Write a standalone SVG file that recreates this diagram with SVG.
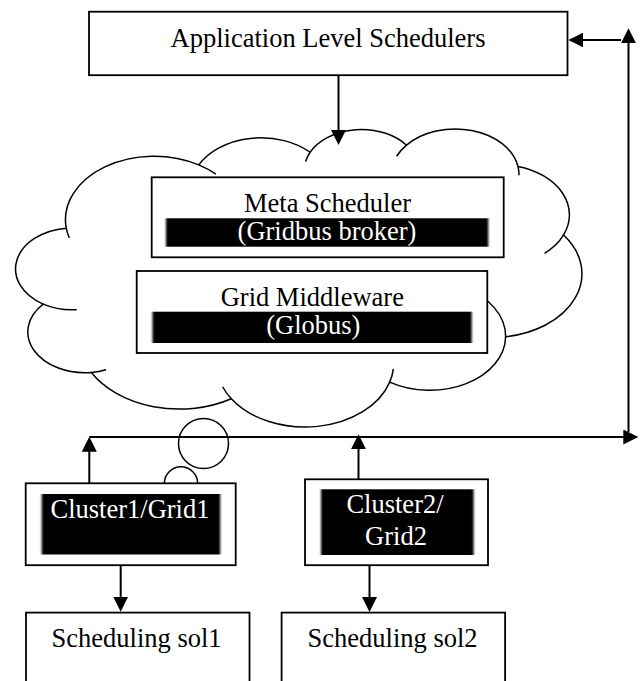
<svg xmlns="http://www.w3.org/2000/svg" width="640" height="681" viewBox="0 0 640 681">
<defs>
<style>
.box{fill:#fff;stroke:#000;stroke-width:1.8}
.bar{fill:#000;filter:url(#hb)}
.t{font-family:"Liberation Serif","Times New Roman","DejaVu Serif",serif;font-size:26.5px;text-anchor:middle;fill:#000}
.w{fill:#fff}
.cl{fill:#fff;stroke:#000;stroke-width:1.5;vector-effect:non-scaling-stroke}
.hk{fill:none;stroke:#000;stroke-width:1.5;vector-effect:non-scaling-stroke}
.bub{fill:#fff;stroke:#000;stroke-width:1.5}
.c{fill:none;stroke:#000;stroke-width:2;marker-end:url(#ah)}
</style>
<filter id="hb" x="-5%" y="0" width="110%" height="100%"><feGaussianBlur stdDeviation="1.3 0"/></filter>
<marker id="ah" markerUnits="userSpaceOnUse" markerWidth="16" markerHeight="16" refX="5" refY="7.5" orient="auto"><path d="M0,0 L15,7.5 L0,15 Z" fill="#000"/></marker>
</defs>
<rect width="640" height="681" fill="#fff"/>

<g id="cloud">
<g transform="translate(15.1,129) scale(0.013122,0.006901)">
<path class="cl" d="M3900 14370 A6753 9190 0 0 1 14000 5192 A5333 7267 0 0 1 22480 3370 A4365 5945 0 0 1 29830 2345 A4857 6595 0 0 1 38324 5426 A5333 7273 0 0 1 41798 15354 A6775 9220 0 0 1 37382 30093 A5785 7867 0 0 1 28547 36682 A6752 9215 0 0 1 16478 39090 A7720 10543 0 0 1 5811 35288 A4360 5918 0 0 1 2140 25373 A4345 5945 0 0 1 3900 14370 Z"/>
<path class="hk" d="M4127 15789 A6753 9190 0 0 1 3900 14370 M14000 5192 A6753 9190 0 0 1 15300 6540 M22141 4720 A4365 5945 0 0 1 22480 3370 M29078 3952 A4857 6595 0 0 1 29830 2345 M38324 5426 A4857 6595 0 0 1 38400 6690 M41798 15354 A5333 7273 0 0 1 40350 18030 M34129 22954 A5785 7867 0 0 1 37382 30093 M28827 34751 A6752 9215 0 0 1 28547 36682 M16478 39090 A6752 9215 0 0 1 15810 37350 M6928 34899 A4360 5918 0 0 1 5811 35288 M4693 26177 A4345 5945 0 0 1 2140 25373"/>
</g>
<circle class="bub" cx="203.5" cy="443.5" r="25"/>
<circle class="bub" cx="181" cy="483.5" r="16.7"/>
</g>

<g id="app">
<rect class="box" x="89" y="11.7" width="478.5" height="63.5"/>
<text class="t" x="328" y="47">Application Level Schedulers</text>
</g>

<g id="meta">
<rect class="box" x="151.7" y="177.3" width="352" height="80"/>
<text class="t" x="327.5" y="212.3">Meta Scheduler</text>
<rect class="bar" x="166" y="218.3" width="322.3" height="28.4"/>
<text class="t w" x="327" y="240">(Gridbus broker)</text>
</g>

<g id="grid">
<rect class="box" x="136.7" y="271" width="350.6" height="82"/>
<text class="t" x="312.3" y="306">Grid Middleware</text>
<rect class="bar" x="152.5" y="311.7" width="319.2" height="31.3"/>
<text class="t w" x="313.3" y="334.3">(Globus)</text>
</g>

<g id="cluster1">
<rect class="box" x="25.7" y="483.3" width="210" height="81.9"/>
<rect class="bar" x="41.7" y="494" width="178.5" height="60.5"/>
<text class="t w" x="130" y="518.3">Cluster1/Grid1</text>
</g>

<g id="cluster2">
<rect class="box" x="305" y="479.3" width="183" height="85.9"/>
<rect class="bar" x="321" y="489.3" width="152.6" height="65.7"/>
<text class="t w" x="395" y="513">Cluster2/</text>
<text class="t w" x="396" y="545">Grid2</text>
</g>

<g id="sol1">
<rect class="box" x="26" y="612.6" width="223.5" height="90"/>
<text class="t" x="136.6" y="646.7">Scheduling sol1</text>
</g>

<g id="sol2">
<rect class="box" x="281.6" y="612.6" width="223.5" height="90"/>
<text class="t" x="392.6" y="647">Scheduling sol2</text>
</g>

<g id="connectors">
<path class="c" d="M338.5,75 V135"/>
<path class="c" d="M628.5,432 V38.3"/>
<path class="c" d="M621,40 H578.3"/>
<path class="c" d="M89.3,437 H628.3"/>
<path class="c" d="M89.3,483 V446.7"/>
<path class="c" d="M358.5,479 V444.3"/>
<path class="c" d="M120.7,565 V601.7"/>
<path class="c" d="M369.5,565 V602"/>
</g>
</svg>
